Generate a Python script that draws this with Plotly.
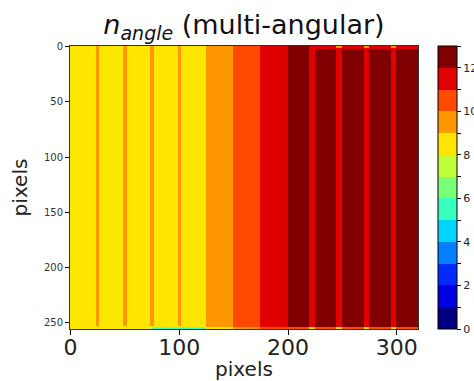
import numpy as np
import plotly.graph_objects as go

# ---- data ----
width, height = 320, 256
col_edges = [0, 125, 150, 175, 200, 320]          # column strip edges (pixels)
col_counts = [8, 9, 10, 11, 12]                     # n_angle in each strip
seam_yellow_x = [24, 49, 74, 99]                    # seams inside the 8-strip
seam_yellow_w = 3
seam_yellow_count = 9
seam_red_x = [220, 245, 270, 295]                   # seams inside the 12-strip
seam_red_w = 5
seam_red_count = 11
top_strip_x0, top_strip_rows, top_strip_count = 225, 3, 11
top_seam_count = 9
bottom_rows = 2
bottom_counts = [8, 8, 9, 10, 10]                   # bottom edge per strip
bottom_green_x = [75, 125]
bottom_green_counts = [6, 5]
bottom_seam_count = 8

cb_tickvals = list(range(0, 14))
cb_ticktext = [str(v) if (v % 2 == 0 and v <= 12) else "" for v in cb_tickvals]

# ---- build the map ----
n = np.zeros((height, width))
for x0, x1, c in zip(col_edges[:-1], col_edges[1:], col_counts):
    n[:, x0:x1] = c
for x in seam_yellow_x:
    n[:height - 3, x:x + seam_yellow_w] = seam_yellow_count
for x in seam_red_x:
    n[:, x:x + seam_red_w] = seam_red_count
n[:top_strip_rows, top_strip_x0:] = top_strip_count
for x in seam_red_x[1:]:
    n[:2, x:x + seam_red_w] = top_seam_count
for x0, x1, c in zip(col_edges[:-1], col_edges[1:], bottom_counts):
    n[height - bottom_rows:, x0:x1] = c
n[height - 2, bottom_green_x[0]:bottom_green_x[1]] = bottom_green_counts[0]
n[height - 1, bottom_green_x[0]:bottom_green_x[1]] = bottom_green_counts[1]
for x in seam_red_x:
    n[height - bottom_rows:, x:x + seam_red_w] = bottom_seam_count

z = n + 0.5

# jet sampled at 13 levels
jet = ["#000080", "#0000e0", "#002aff", "#0080ff", "#00d4ff", "#37ffc0",
       "#7bff7b", "#c0ff37", "#ffe600", "#ff9700", "#ff4800", "#e00000", "#800000"]
nb = len(jet)
cscale = []
for i, c in enumerate(jet):
    cscale.append([i / nb, c])
    cscale.append([(i + 1) / nb, c])

fig = go.Figure(go.Heatmap(
    z=z, x=np.arange(width), y=np.arange(height),
    colorscale=cscale, zmin=0, zmax=13,
    colorbar=dict(
        x=1.057, xanchor="left", xpad=0, y=0.5, yanchor="middle", len=1, lenmode="fraction",
        thickness=19, ypad=0,
        tickmode="array", tickvals=cb_tickvals, ticktext=cb_ticktext,
        ticks="outside", ticklen=4, tickcolor="#000", outlinecolor="#000", outlinewidth=1,
        tickfont=dict(family="DejaVu Sans", size=11, color="#222"),
    ),
))

fig.update_layout(
    width=474, height=381,
    margin=dict(l=70, r=56, t=46, b=52, autoexpand=False),
    paper_bgcolor="white", plot_bgcolor="white",
    font=dict(family="DejaVu Sans", color="#111"),
    title=dict(text="<i>n</i><sub><i><span style='font-size:19px'>angle</span></i></sub> (multi-angular)",
               x=0.5, xref="paper", xanchor="center",
               y=1 - 25 / 381, yref="container", yanchor="middle",
               font=dict(family="DejaVu Sans", size=27, color="#111")),
)
fig.update_xaxes(range=[-0.5, width - 0.5], tickvals=[0, 100, 200, 300],
                 ticks="outside", ticklen=5, tickcolor="#000",
                 ticklabelstandoff=-6,
                 tickfont=dict(size=22, color="#222"),
                 title=dict(text="pixels", font=dict(size=20, color="#222"), standoff=0),
                 showline=True, linecolor="#333", linewidth=1, mirror=True,
                 showgrid=False, zeroline=False)
fig.update_yaxes(range=[height - 0.5, -0.5], tickvals=[0, 50, 100, 150, 200, 250],
                 ticks="outside", ticklen=4, tickcolor="#000",
                 tickfont=dict(size=10, color="#333"),
                 title=dict(text="pixels", font=dict(size=20, color="#222"), standoff=10),
                 showline=True, linecolor="#333", linewidth=1, mirror=True,
                 showgrid=False, zeroline=False)

fig.write_html("out.html")
